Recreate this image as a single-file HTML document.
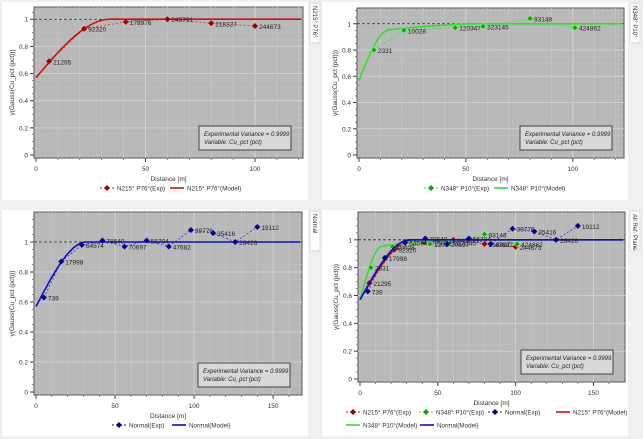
<!DOCTYPE html>
<html><head><meta charset="utf-8">
<style>
body{margin:0;background:#f0f0f0;width:643px;height:439px;overflow:hidden;font-family:"Liberation Sans",sans-serif}
svg{display:block}
text{font-family:"Liberation Sans",sans-serif}
</style></head>
<body>
<svg id="c" width="643" height="439" xmlns="http://www.w3.org/2000/svg"></svg>
<script>
// ---- data ----
const redDist = [6, 22, 41, 60, 80, 100];
const redGamma = [0.69, 0.93, 0.98, 1.0, 0.97, 0.95];
const redPairs = ["21295", "92320", "178976", "245791", "218327", "244673"];
const greenDist = [7, 21, 45, 58, 80, 101];
const greenGamma = [0.80, 0.95, 0.97, 0.98, 1.04, 0.97];
const greenPairs = ["2331", "10028", "120347", "323145", "93148", "424862"];
const blueDist = [5, 16, 29, 42, 56, 70, 84, 98, 112, 126, 140];
const blueGamma = [0.63, 0.87, 0.98, 1.01, 0.97, 1.01, 0.97, 1.08, 1.06, 1.0, 1.1];
const bluePairs = ["739", "17998", "64574", "78540", "70697", "56704", "47682", "39776", "35416", "28426", "19112"];
// model parameters: [nugget, [sill, range], ...] spherical structures
const redModel = [0.57, [0.43, 34]];
const greenModel = [0.57, [0.36, 14], [0.07, 60]];
const blueModel = [0.57, [0.43, 32]];
const yTicks = [0, 0.2, 0.4, 0.6, 0.8, 1];
const xTicksShort = [0, 50, 100];
const xTicksLong = [0, 50, 100, 150];

const NS = "http://www.w3.org/2000/svg";
const svg = document.getElementById("c");
function mk(tag, attrs, parent, txt){
  const e = document.createElementNS(NS, tag);
  for (const k in attrs) e.setAttribute(k, attrs[k]);
  if (txt !== undefined) e.textContent = txt;
  (parent || svg).appendChild(e);
  return e;
}
function sph(m, h){
  let g = m[0];
  for (let i = 1; i < m.length; i++){
    const c = m[i][0], a = m[i][1];
    g += h >= a ? c : c * (1.5 * h / a - 0.5 * Math.pow(h / a, 3));
  }
  return g;
}
const COL = {red:"#d01010", green:"#30e030", blue:"#1010c0"};
const MK = {red:"#a00000", green:"#10a010", blue:"#000090"};

function panel(cfg){
  const g = mk("g", {});
  
  
  const bg = mk("rect", {x:cfg.px, y:cfg.py, width:cfg.pw, height:cfg.ph, fill:"#fff"}, g);
  
  
  const tab = mk("rect", {x:cfg.px+cfg.pw+2, y:cfg.py+1, width:10, height:40, fill:"#fff", stroke:"#ddd"}, g);
  
  
  const tt = mk("text", {x:0, y:0, "font-size":6, fill:"#333", transform:`translate(${cfg.px+cfg.pw+5},${cfg.py+4}) rotate(90)`}, g, cfg.tab);
  
  
  const {L, R, T, B, xmax, ymax} = cfg;
  const x0 = L + 2;
  const xs = (R - 2 - x0) / xmax;
  const Xs = v => x0 + v * xs;
  const yz = B - 3;
  const Y = v => yz - (yz - T) * v / ymax;
  const plot = mk("rect", {x:L, y:T, width:R-L, height:B-T, fill:"#b8b8b8", stroke:"#555", "stroke-width":1}, g);
  
  
  for (let v = 10; v < xmax; v += 10){
    mk("line", {x1:Xs(v), x2:Xs(v), y1:T, y2:B, stroke: v % 50 === 0 ? "#d4d4d4" : "#c3c3c3", "stroke-width":1}, g);
    for (let s = 2; s < 10; s += 2) mk("line", {x1:Xs(v-10+s), x2:Xs(v-10+s), y1:T, y2:B, stroke:"#bebebe", "stroke-width":0.5}, g);
  }
  for (let v = 0.05; v < ymax; v += 0.05){
    const major = Math.abs(v*5 - Math.round(v*5)) < 1e-6;
    mk("line", {x1:L, x2:R, y1:Y(v), y2:Y(v), stroke: major ? "#cfcfcf" : "#c0c0c0", "stroke-width": major ? 1 : 0.5}, g);
  }
  yTicks.forEach(v => {
    mk("line", {x1:L-4, x2:L, y1:Y(v), y2:Y(v), stroke:"#444"}, g);
    const t = mk("text", {x:L-6, y:Y(v)+2.5, "font-size":6.5, "text-anchor":"end", fill:"#333"}, g, String(v));
    
    
  });
  for (let v = 0.05; v < ymax; v += 0.05) mk("line", {x1:L-2, x2:L, y1:Y(v), y2:Y(v), stroke:"#444", "stroke-width":0.6}, g);
  cfg.xticks.forEach(v => {
    mk("line", {x1:Xs(v), x2:Xs(v), y1:B, y2:B+4, stroke:"#444"}, g);
    const t = mk("text", {x:Xs(v), y:B+13, "font-size":6.5, "text-anchor":"middle", fill:"#333"}, g, String(v));
    
    
  });
  for (let v = 10; v < xmax; v += 10) mk("line", {x1:Xs(v), x2:Xs(v), y1:B, y2:B+2, stroke:"#444", "stroke-width":0.6}, g);
  const xt = mk("text", {x:(L+R)/2, y:B+23, "font-size":6.5, "text-anchor":"middle", fill:"#333"}, g, "Distance [m]");
  
  
  const yt = mk("text", {x:0, y:0, "font-size":6.5, "text-anchor":"middle", fill:"#333", transform:`translate(${L-20},${(T+B)/2}) rotate(-90)`}, g, "γ(Gauss(Cu_pct (pct)))");
  
  
  const sl = mk("line", {x1:L, x2:R, y1:Y(1), y2:Y(1), stroke:"#222", "stroke-dasharray":"3,2", "stroke-width":0.8}, g);
  
  
  cfg.series.forEach(s => {
    let d = "";
    for (let h = 0; h <= xmax; h += 0.5) d += (h ? "L" : "M") + Xs(h).toFixed(1) + "," + Y(sph(s.model, h)).toFixed(1);
    const ml = mk("path", {d, fill:"none", stroke:COL[s.c], "stroke-width":1.6}, g);
    
    
    const pts = s.dist.map((h, i) => Xs(h).toFixed(1) + "," + Y(s.gamma[i]).toFixed(1)).join(" ");
    const el = mk("polyline", {points:pts, fill:"none", stroke:COL[s.c], "stroke-width":0.8, "stroke-dasharray":"2,2", opacity:0.8}, g);
    
    
    s.dist.forEach((h, i) => {
      const cx = Xs(h), cy = Y(s.gamma[i]);
      const p = mk("path", {d:`M${cx},${cy-3}L${cx+3},${cy}L${cx},${cy+3}L${cx-3},${cy}Z`, fill:MK[s.c], stroke:s.c==="green"?"#80ff80":"none", "stroke-width":0.6}, g);
      
      
      const t = mk("text", {x:cx+4, y:cy+3, "font-size":6.5, fill:"#222"}, g, s.pairs[i]);
      
      
    });
  });
  const bx = R - 104, by = B - 32;
  const ib = mk("rect", {x:bx, y:by, width:92, height:24, fill:"#d8d8d8", stroke:"#444"}, g);
  
  
  mk("text", {x:bx+5, y:by+10, "font-size":6, "font-style":"italic", fill:"#222"}, g, "Experimental Variance = 0.9999");
  mk("text", {x:bx+5, y:by+18, "font-size":6, "font-style":"italic", fill:"#222"}, g, "Variable: Cu_pct (pct)");
  cfg.legend.forEach(le => {
    const lg = mk("g", {}, g);
    
    
    if (le.exp){
      mk("line", {x1:le.x, x2:le.x+14, y1:le.y, y2:le.y, stroke:COL[le.c], "stroke-dasharray":"2,2"}, lg);
      const cx = le.x + 7;
      mk("path", {d:`M${cx},${le.y-3}L${cx+3},${le.y}L${cx},${le.y+3}L${cx-3},${le.y}Z`, fill:MK[le.c]}, lg);
    } else {
      mk("line", {x1:le.x, x2:le.x+14, y1:le.y, y2:le.y, stroke:COL[le.c], "stroke-width":1.6}, lg);
    }
    mk("text", {x:le.x+17, y:le.y+2.3, "font-size":6.3, fill:"#333"}, lg, le.t);
  });
}

const R1 = {c:"red", dist:redDist, gamma:redGamma, pairs:redPairs, model:redModel};
const G1 = {c:"green", dist:greenDist, gamma:greenGamma, pairs:greenPairs, model:greenModel};
const B1 = {c:"blue", dist:blueDist, gamma:blueGamma, pairs:bluePairs, model:blueModel};

panel({name:"panel-n215", px:2, py:2, pw:306, ph:198, tab:"N215° P76°", L:34, R:303, T:7, B:158, xmax:121, ymax:1.09, xticks:xTicksShort, series:[R1],
  legend:[{x:100,y:188,c:"red",exp:true,t:"N215° P76°(Exp)"},{x:170,y:188,c:"red",t:"N215° P76°(Model)"}]});
panel({name:"panel-n348", px:322, py:2, pw:306, ph:198, tab:"N348° P10°", L:357, R:624, T:8, B:158, xmax:123, ymax:1.12, xticks:xTicksShort, series:[G1],
  legend:[{x:424,y:188,c:"green",exp:true,t:"N348° P10°(Exp)"},{x:494,y:188,c:"green",t:"N348° P10°(Model)"}]});
panel({name:"panel-normal", px:2, py:210, pw:306, ph:226, tab:"Normal", L:34, R:302, T:212, B:395, xmax:167, ymax:1.2, xticks:xTicksLong, series:[B1],
  legend:[{x:112,y:425,c:"blue",exp:true,t:"Normal(Exp)"},{x:172,y:425,c:"blue",t:"Normal(Model)"}]});
panel({name:"panel-all", px:322, py:210, pw:306, ph:226, tab:"All    Ref. Plane", L:358, R:625, T:212, B:382, xmax:169, ymax:1.2, xticks:xTicksLong, series:[R1,G1,B1],
  legend:[{x:346,y:412,c:"red",exp:true,t:"N215° P76°(Exp)"},{x:419,y:412,c:"green",exp:true,t:"N348° P10°(Exp)"},{x:488,y:412,c:"blue",exp:true,t:"Normal(Exp)"},{x:556,y:412,c:"red",t:"N215° P76°(Model)"},
          {x:346,y:425,c:"green",t:"N348° P10°(Model)"},{x:420,y:425,c:"blue",t:"Normal(Model)"}]});
</script>
</body></html>
